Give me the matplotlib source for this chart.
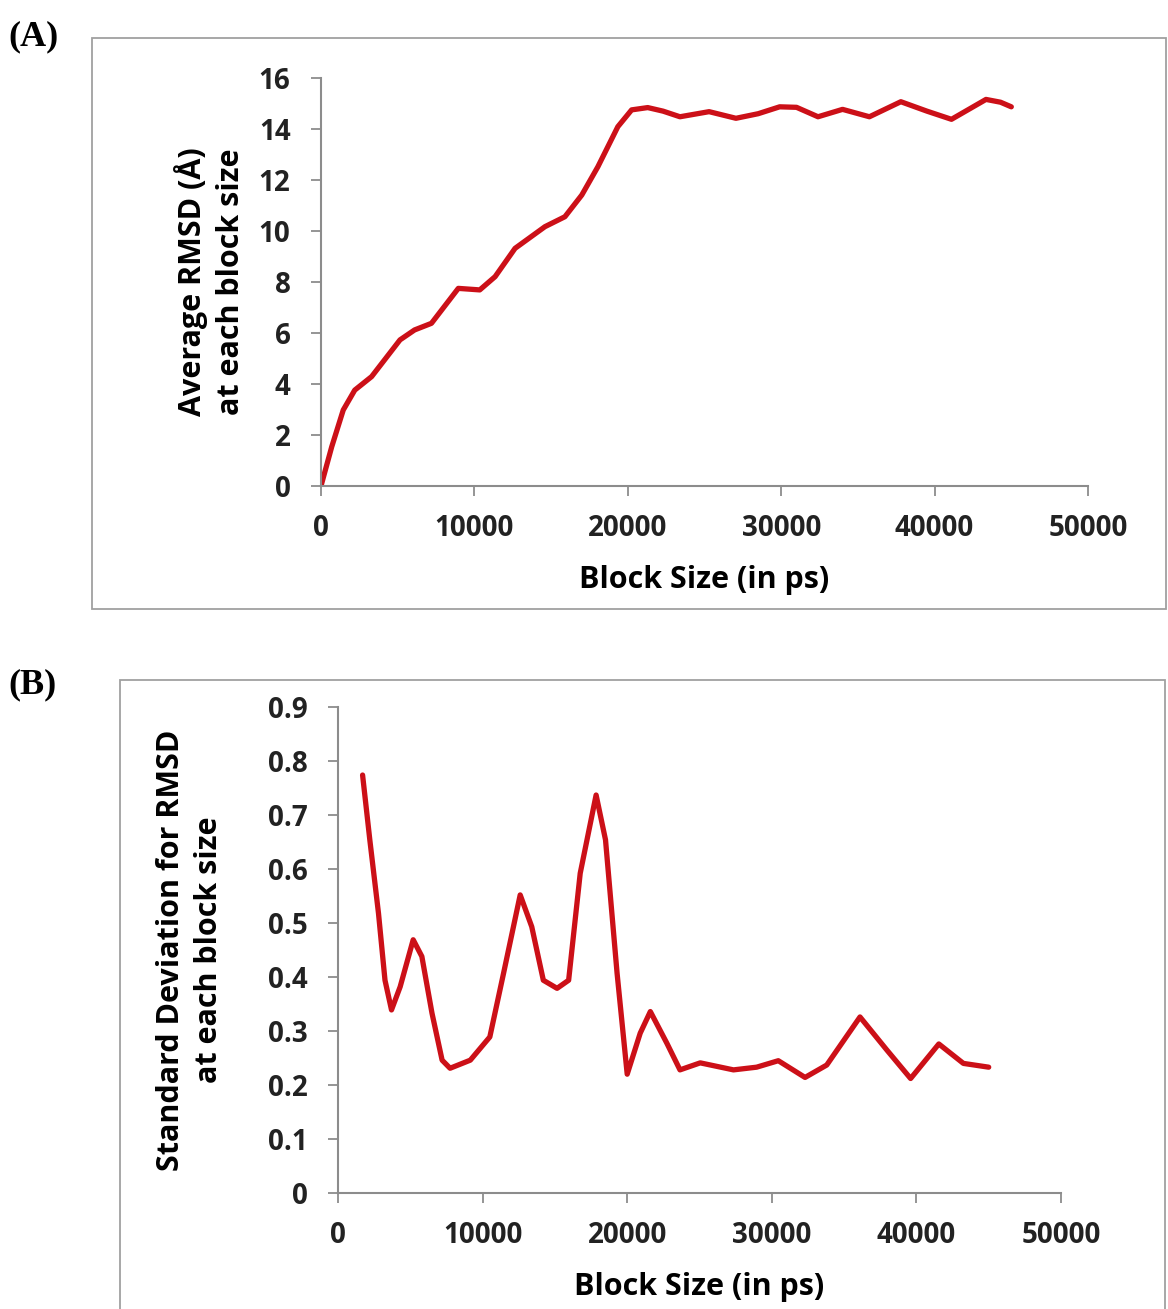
import matplotlib
matplotlib.use("Agg")
import matplotlib.pyplot as plt
from matplotlib.patches import Rectangle

# --- data ---
# panel A: average RMSD at each block size
block_a = [0, 700, 1450, 2200, 3300, 5150, 6100, 7200, 8950, 10350, 11350,
           12650, 14600, 15900, 17000, 18050, 19350, 20250, 21300, 22300,
           23400, 25300, 27050, 28500, 29900, 31000, 32400, 34000, 35750,
           37800, 39500, 41100, 43350, 44300, 45000]
rmsd_avg = [0.0, 1.54, 2.98, 3.76, 4.29, 5.73, 6.12, 6.38, 7.75, 7.69, 8.21,
            9.32, 10.17, 10.56, 11.41, 12.52, 14.09, 14.75, 14.84, 14.7,
            14.48, 14.68, 14.42, 14.6, 14.87, 14.85, 14.48, 14.77, 14.48,
            15.07, 14.7, 14.38, 15.16, 15.05, 14.87]

# panel B: standard deviation of RMSD at each block size
block_b = [1700, 2200, 2800, 3250, 3700, 4300, 5200, 5800, 6500, 7200, 7750,
           9150, 10500, 11450, 12600, 13400, 14200, 15150, 15950, 16750,
           17850, 18500, 19300, 20000, 20900, 21600, 22750, 23650, 25050,
           27350, 28950, 30450, 32300, 33800, 36100, 37950, 39600, 41550,
           43250, 45000]
rmsd_sd = [0.774, 0.654, 0.518, 0.394, 0.339, 0.382, 0.469, 0.438, 0.333,
           0.246, 0.231, 0.246, 0.289, 0.407, 0.552, 0.493, 0.394, 0.379,
           0.394, 0.592, 0.737, 0.654, 0.407, 0.220, 0.296, 0.336, 0.277,
           0.228, 0.241, 0.228, 0.233, 0.245, 0.214, 0.237, 0.326, 0.265,
           0.212, 0.276, 0.240, 0.233]

line_color = "#CC1018"
axis_gray = "#8C8C8C"

fig = plt.figure(figsize=(11.68, 13.09), dpi=100)

# outer frames around each panel (as in the original figure)
fig.patches.append(Rectangle((92 / 1168, 1 - 609 / 1309), (1166 - 92) / 1168, (609 - 38) / 1309,
                             transform=fig.transFigure, fill=False, edgecolor="#A0A0A0", lw=1.3))
fig.patches.append(Rectangle((120 / 1168, -0.01), (1165 - 120) / 1168, 1 - 680 / 1309 + 0.01,
                             transform=fig.transFigure, fill=False, edgecolor="#A0A0A0", lw=1.3))

fig.text(8 / 1168, 1 - 37 / 1309, "(A)", family="Liberation Serif", weight="bold", size=26, va="center")
fig.text(8 / 1168, 1 - 685 / 1309, "(B)", family="Liberation Serif", weight="bold", size=26, va="center")

ax_a = fig.add_axes([321 / 1168, 1 - 486 / 1309, 767 / 1168, 408 / 1309])
ax_b = fig.add_axes([338 / 1168, 1 - 1193 / 1309, 723 / 1168, 486 / 1309])


def style_axis(ax):
    for side in ["top", "right"]:
        ax.spines[side].set_visible(False)
    for side in ["left", "bottom"]:
        ax.spines[side].set_color(axis_gray)
        ax.spines[side].set_linewidth(1.5)
    ax.tick_params(direction="out", length=7, width=1.3, color=axis_gray)
    ax.tick_params(axis="y", pad=15)
    ax.tick_params(axis="x", pad=13)
    for lab in ax.get_xticklabels() + ax.get_yticklabels():
        lab.set_fontfamily("Open Sans")
        lab.set_fontweight("bold")
        lab.set_fontsize(20)
        lab.set_color("#222222")
    ax.xaxis.label.set_va("center")
    ax.yaxis.label.set_va("center")


# panel A
ax_a.plot(block_a, rmsd_avg, color=line_color, lw=3.8, solid_joinstyle="round", solid_capstyle="round")
ax_a.set_xlim(0, 50000)
ax_a.set_ylim(0, 16)
ax_a.set_xticks(range(0, 50001, 10000))
ax_a.set_yticks(range(0, 17, 2))
ax_a.set_xlabel("Block Size (in ps)", family="Open Sans", weight="bold", size=22)
ax_a.set_ylabel("Average RMSD (Å)\nat each block size", family="Open Sans", weight="bold", size=22,
                linespacing=1.35)
style_axis(ax_a)
ax_a.xaxis.set_label_coords(0.5, -0.23)
ax_a.yaxis.set_label_coords(-0.145, 0.5)

# panel B
ax_b.plot(block_b, rmsd_sd, color=line_color, lw=3.8, solid_joinstyle="round", solid_capstyle="round")
ax_b.set_xlim(0, 50000)
ax_b.set_ylim(0, 0.9)
ax_b.set_xticks(range(0, 50001, 10000))
ax_b.set_yticks([i / 10 for i in range(10)])
ax_b.set_yticklabels(["0"] + [f"{i / 10:.1f}" for i in range(1, 10)])
ax_b.set_xlabel("Block Size (in ps)", family="Open Sans", weight="bold", size=22)
ax_b.set_ylabel("Standard Deviation for RMSD\nat each block size", family="Open Sans", weight="bold",
                size=22, linespacing=1.35)
style_axis(ax_b)
ax_b.xaxis.set_label_coords(0.5, -0.193)
ax_b.yaxis.set_label_coords(-0.205, 0.5)

fig.savefig("out.png", dpi=100)
